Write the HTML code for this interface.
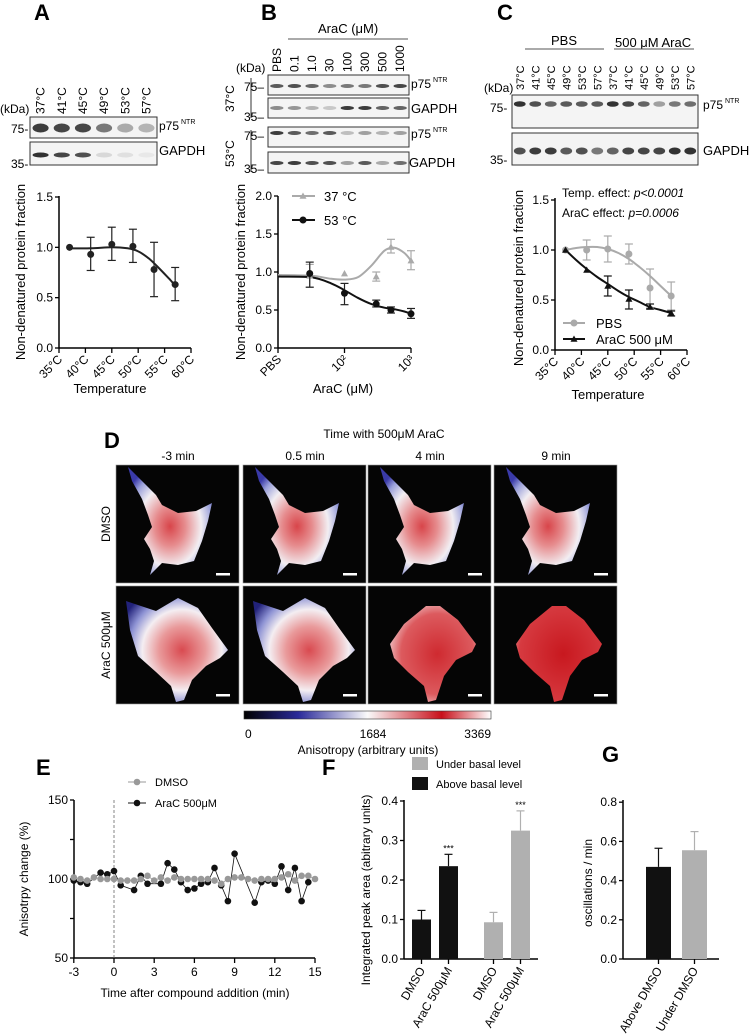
<!DOCTYPE html>
<html><head><meta charset="utf-8">
<style>
html,body{margin:0;padding:0;background:#fff;}
svg{display:block;font-family:"Liberation Sans",Arial,sans-serif;}
</style></head>
<body>
<svg id="fig" width="750" height="1035" viewBox="0 0 750 1035" xmlns="http://www.w3.org/2000/svg">
<defs>
<radialGradient id="cellG" cx="0.5" cy="0.55" r="0.6">
<stop offset="0" stop-color="#d8454a"/><stop offset="0.3" stop-color="#e68c8e"/><stop offset="0.62" stop-color="#f2eef2"/><stop offset="0.85" stop-color="#9aa0da"/><stop offset="1" stop-color="#3a3aa8"/></radialGradient>
<radialGradient id="cellG2" cx="0.55" cy="0.5" r="0.65">
<stop offset="0" stop-color="#d94a50"/><stop offset="0.35" stop-color="#e99a9b"/><stop offset="0.6" stop-color="#f4eef2"/><stop offset="0.8" stop-color="#8e93d4"/><stop offset="1" stop-color="#22227a"/></radialGradient>
<radialGradient id="cellG3" cx="0.55" cy="0.5" r="0.6">
<stop offset="0" stop-color="#cf2a30"/><stop offset="0.7" stop-color="#dc5a5e"/><stop offset="0.9" stop-color="#eaa7aa"/><stop offset="1" stop-color="#c8c8e8"/></radialGradient>
<radialGradient id="cellG4" cx="0.55" cy="0.5" r="0.6">
<stop offset="0" stop-color="#c8181f"/><stop offset="0.85" stop-color="#d63a40"/><stop offset="1" stop-color="#e37c80"/></radialGradient>
<linearGradient id="cbar" x1="0" x2="1" y1="0" y2="0">
<stop offset="0" stop-color="#000"/><stop offset="0.22" stop-color="#2a2a9a"/><stop offset="0.5" stop-color="#fafafa"/><stop offset="0.8" stop-color="#c8101a"/><stop offset="1" stop-color="#fff"/></linearGradient>
</defs>

<!-- Panel letters -->
<text x="34" y="20" font-size="22" font-weight="bold">A</text>
<text x="261" y="20" font-size="22" font-weight="bold">B</text>
<text x="497" y="20" font-size="22" font-weight="bold">C</text>
<text x="104" y="448" font-size="22" font-weight="bold">D</text>
<text x="36" y="775" font-size="22" font-weight="bold">E</text>
<text x="322" y="775" font-size="22" font-weight="bold">F</text>
<text x="602" y="762" font-size="22" font-weight="bold">G</text>

<g id="blots"></g>
<g id="chartA"></g>
<g id="chartB"></g>
<g id="chartC"></g>
<g id="panelD"></g>
<g id="chartE"></g>
<g id="chartF"></g>
<g id="chartG"></g>
</svg>

<script>
// ---------- DATA ----------
// Panel A
const aTemps=[37,41,45,49,53,57];
const aMeans=[1.0,0.93,1.03,1.01,0.78,0.63];
const aErrLo=[1.0,0.77,0.87,0.85,0.51,0.47];
const aErrHi=[1.0,1.10,1.20,1.18,1.05,0.80];
const aFitT=[37,41,45,48,50,52,54,56,57];
const aFitV=[0.99,0.99,1.0,0.99,0.96,0.89,0.79,0.68,0.62];
const aTicks=[35,40,45,50,55,60];
const aYTicks=[0,0.5,1.0,1.5];
// Panel B (AraC uM, PBS plotted at 10^1)
const bConc=[30,100,300,500,1000];
const b37Means=[0.95,0.98,0.94,1.33,1.15];
const b37Lo=[0.80,0.98,0.88,1.25,1.03];
const b37Hi=[1.10,0.98,1.00,1.43,1.28];
const b53Means=[0.98,0.72,0.58,0.50,0.45];
const b53Lo=[0.80,0.57,0.54,0.46,0.39];
const b53Hi=[1.13,0.85,0.63,0.54,0.52];
const bFitLog=[1,1.5,1.8,2,2.2,2.4,2.6,2.75,2.9,3];
const b37Fit=[0.96,0.95,0.91,0.90,0.93,1.08,1.28,1.32,1.25,1.15];
const b53Fit=[0.94,0.93,0.85,0.76,0.66,0.58,0.53,0.51,0.48,0.45];
const bTickLabels=["PBS","10²","10³"];
const bTickLogs=[1,2,3];
const bYTicks=[0,0.5,1.0,1.5,2.0];
// Panel C
const cTemps=[37,41,45,49,53,57];
const cPbs=[1.0,1.0,1.01,0.96,0.62,0.54];
const cPbsLo=[1.0,0.90,0.88,0.86,0.42,0.40];
const cPbsHi=[1.0,1.10,1.14,1.06,0.81,0.68];
const cAra=[1.0,0.80,0.64,0.51,0.43,0.37];
const cAraLo=[1.0,0.80,0.54,0.41,0.41,0.34];
const cAraHi=[1.0,0.80,0.74,0.60,0.46,0.39];
const cFitT=[37,39,41,43,45,47,49,51,53,55,57];
const cPbsFit=[1.0,1.02,1.03,1.03,1.01,0.97,0.91,0.83,0.74,0.64,0.54];
const cAraFit=[1.0,0.9,0.81,0.73,0.66,0.59,0.53,0.48,0.43,0.40,0.37];
const cTicks=[35,40,45,50,55,60];
const cYTicks=[0,0.5,1.0,1.5];
// Panel E
const eDmsoT=[-3,-2.5,-2,-1.5,-1,-0.5,0,0.5,1,1.5,2,2.5,3,3.5,4,4.5,5,5.5,6,6.5,7,7.5,8,8.5,9,9.5,10,10.5,11,11.5,12,12.5,13,13.5,14,14.5,15];
const eDmsoV=[101,100,99,101,100,100,100,99,99,99,100,102,99,101,99,101,100,100,100,100,100,99,97,100,101,101,100,99,100,100,100,101,103,99,102,102,100];
const eAraT=[-3,-2.5,-2,-1,-0.5,0,0.5,1.5,2,2.5,3.5,4,4.5,5,5.5,6,6.5,7,7.5,8,8.5,9,10.5,11,11.5,12,12.5,13,13.5,14,14.5];
const eAraV=[99,98,97,104,103,105,96,93,102,97,97,110,106,98,93,94,97,98,107,96,86,116,85,98,99,97,108,93,107,86,98];
const eXTicks=[-3,0,3,6,9,12,15];
const eYTicks=[50,75,100,125,150];
const eYLabels=["50","","100","","150"];
// Panel F
const fCats=["DMSO","AraC 500μM","DMSO","AraC 500μM"];
const fVals=[0.10,0.235,0.093,0.325];
const fErr=[0.123,0.265,0.118,0.375];
const fGroup=["above","above","under","under"];
const fSig=["","***","","***"];
const fYTicks=[0,0.1,0.2,0.3,0.4];
// Panel G
const gCats=["Above DMSO","Under DMSO"];
const gVals=[0.47,0.555];
const gErr=[0.565,0.65];
const gYTicks=[0,0.2,0.4,0.6,0.8];

// ---------- HELPERS ----------
const NS="http://www.w3.org/2000/svg";
function mk(tag,attrs,parent){const e=document.createElementNS(NS,tag);for(const k in attrs)e.setAttribute(k,attrs[k]);parent.appendChild(e);return e;}
function txt(parent,x,y,s,size,extra){const t=mk("text",Object.assign({x:x,y:y,"font-size":size||11},extra||{}),parent);t.textContent=s;return t;}
function path(pts){return pts.map((p,i)=>(i?"L":"M")+p[0].toFixed(1)+","+p[1].toFixed(1)).join("");}
function smooth(pts){let d="M"+pts[0][0]+","+pts[0][1];for(let i=0;i<pts.length-1;i++){const p0=pts[Math.max(0,i-1)],p1=pts[i],p2=pts[i+1],p3=pts[Math.min(pts.length-1,i+2)];const c1=[p1[0]+(p2[0]-p0[0])/6,p1[1]+(p2[1]-p0[1])/6],c2=[p2[0]-(p3[0]-p1[0])/6,p2[1]-(p3[1]-p1[1])/6];d+="C"+c1[0].toFixed(1)+","+c1[1].toFixed(1)+" "+c2[0].toFixed(1)+","+c2[1].toFixed(1)+" "+p2[0].toFixed(1)+","+p2[1].toFixed(1);}return d;}
function errbar(g,x,lo,hi,color){if(Math.abs(lo-hi)<0.5)return;mk("line",{x1:x,x2:x,y1:lo,y2:hi,stroke:color,"stroke-width":1.2},g);mk("line",{x1:x-4,x2:x+4,y1:lo,y2:lo,stroke:color,"stroke-width":1.2},g);mk("line",{x1:x-4,x2:x+4,y1:hi,y2:hi,stroke:color,"stroke-width":1.2},g);}
function tri(g,x,y,r,color){return mk("path",{d:`M${x},${y-r}L${x+r},${y+r*0.8}L${x-r},${y+r*0.8}Z`,fill:color},g);}
function yAxis(g,x,y0,y1,ticks,labels,ys){mk("line",{x1:x,x2:x,y1:y0,y2:y1,stroke:"#000","stroke-width":1.5},g);ticks.forEach((v,i)=>{const y=ys(v);mk("line",{x1:x-4,x2:x,y1:y,y2:y,stroke:"#000","stroke-width":1.3},g);const t=txt(g,x-6,y+4,labels[i],12,{"text-anchor":"end"});});}

// ---------- BLOTS ----------
const blots=document.getElementById("blots");
function blot(x,y,w,h,lanes,intens,bandY,thick){const b=mk("g",{},blots);mk("rect",{x:x,y:y,width:w,height:h,fill:"#f4f4f4",stroke:"#333","stroke-width":1},b);const step=w/lanes;intens.forEach((v,i)=>{if(v<=0)return;const c=Math.round(240-200*v);mk("ellipse",{cx:x+step*(i+0.5),cy:y+bandY,rx:step*0.38,ry:thick,fill:`rgb(${c},${c},${c})`},b);});}
// A
blot(30,117,127,21,6,[0.9,0.85,0.85,0.6,0.35,0.3],11,4.5);
blot(30,142,127,23,6,[0.95,0.85,0.8,0.12,0.08,0.04],13,2.5);
// B
blot(268,75,141,20,8,[0.75,0.8,0.7,0.5,0.6,0.6,0.8,0.85],11,2);
blot(268,98,141,20,8,[0.5,0.45,0.3,0.2,0.9,0.9,0.7,0.7],10,2);
blot(268,127,141,20,8,[0.9,0.75,0.65,0.75,0.25,0.4,0.3,0.4],6,2);
blot(268,152,141,21,8,[0.85,0.9,0.8,0.8,0.4,0.75,0.35,0.65],11,2);
// C
blot(512,95,186,33,12,[0.95,0.8,0.7,0.75,0.75,0.75,0.95,0.85,0.7,0.4,0.6,0.65],9,2.8);
blot(512,133,186,32,12,[0.8,0.9,0.9,0.75,0.8,0.6,0.7,0.85,0.85,0.85,0.95,0.95],18,3.5);
function rotLabel(x,y,s,size){const t=txt(blots,x,y,s,size||11,{transform:`rotate(-90 ${x} ${y})`});return t;}
const laneA=["37°C","41°C","45°C","49°C","53°C","57°C"];
laneA.forEach((s,i)=>rotLabel(30+127/6*(i+0.5)+4,114,s,12));
const laneB=["PBS","0.1","1.0","30","100","300","500","1000"];
laneB.forEach((s,i)=>rotLabel(268+141/8*(i+0.5)+4,72,s,12));
const laneC=["37°C","41°C","45°C","49°C","53°C","57°C","37°C","41°C","45°C","49°C","53°C","57°C"];
laneC.forEach((s,i)=>rotLabel(512+186/12*(i+0.5)+4,90,s,11));
function blotText(x,y,s,size,extra,name){const t=txt(blots,x,y,s,size,extra);return t;}
blotText(0,113,"(kDa)",12,{},"kda-label");
blotText(11,133,"75-",12,{},"marker-75");
blotText(11,168,"35-",12,{},"marker-35");
blotText(159,130,"p75",12,{},"p75-label");blotText(181,124,"NTR",7,{},"ntr-sup");
blotText(159,155,"GAPDH",13,{},"gapdh-label");
blotText(236,72,"(kDa)",12,{},"kda-label");
blotText(244,91,"75–",12,{},"marker-75");blotText(244,121,"35–",12,{},"marker-35");
blotText(244,140,"75–",12,{},"marker-75");blotText(244,173,"35–",12,{},"marker-35");
blotText(411,88,"p75",12,{},"p75-label");blotText(433,82,"NTR",7,{},"ntr-sup");
blotText(411,113,"GAPDH",13,{},"gapdh-label");
blotText(411,138,"p75",12,{},"p75-label");blotText(433,132,"NTR",7,{},"ntr-sup");
blotText(409,167,"GAPDH",13,{},"gapdh-label");
blotText(318,33,"AraC (μM)",13,{},"arac-header");
mk("line",{x1:288,x2:408,y1:39,y2:39,stroke:"#555","stroke-width":1},blots);
blotText(234,112,"37°C",12,{transform:"rotate(-90 234 112)"},"temp-37-label");
blotText(234,167,"53°C",12,{transform:"rotate(-90 234 167)"},"temp-53-label");
mk("line",{x1:251,x2:251,y1:78,y2:118,stroke:"#333","stroke-width":1},blots);
mk("line",{x1:251,x2:251,y1:130,y2:172,stroke:"#333","stroke-width":1},blots);
blotText(551,45,"PBS",13,{},"pbs-header");
mk("line",{x1:525,x2:604,y1:49,y2:49,stroke:"#555","stroke-width":1},blots);
blotText(615,47,"500 μM AraC",13,{},"arac-header");
mk("line",{x1:614,x2:694,y1:49,y2:49,stroke:"#555","stroke-width":1},blots);
blotText(484,92,"(kDa)",12,{},"kda-label");
blotText(490,112,"75-",12,{},"marker-75");blotText(490,164,"35-",12,{},"marker-35");
blotText(703,109,"p75",12,{},"p75-label");blotText(725,103,"NTR",7,{},"ntr-sup");
blotText(703,155,"GAPDH",13,{},"gapdh-label");

// ---------- CHART A ----------
(function(){
const g=document.getElementById("chartA");
const x=t=>59+(t-35)*(132/25), y=v=>348-v*(151/1.5);
yAxis(g,59,196,348,aYTicks,["0.0","0.5","1.0","1.5"],y);
mk("line",{x1:59,x2:191,y1:348,y2:348,stroke:"#000","stroke-width":1.5},g);
aTicks.forEach(t=>{mk("line",{x1:x(t),x2:x(t),y1:348,y2:353,stroke:"#000","stroke-width":1.3},g);const l=txt(g,x(t)+4,360,t+"°C",12,{"text-anchor":"end",transform:`rotate(-45 ${x(t)+4} 360)`});});
const fit=mk("path",{d:smooth(aFitT.map((t,i)=>[x(t),y(aFitV[i])])),fill:"none",stroke:"#222","stroke-width":2},g);

aTemps.forEach((t,i)=>{errbar(g,x(t),y(aErrLo[i]),y(aErrHi[i]),"#222");const c=mk("circle",{cx:x(t),cy:y(aMeans[i]),r:3.5,fill:"#222"},g);});
const yl=txt(g,25,272,"Non-denatured protein fraction",13,{"text-anchor":"middle",transform:"rotate(-90 25 272)"});
const xl=txt(g,110,393,"Temperature",13,{"text-anchor":"middle"});
})();

// ---------- CHART B ----------
(function(){
const g=document.getElementById("chartB");
const x=l=>278+(l-1)*66.5, y=v=>348-v*76;
yAxis(g,278,196,348,bYTicks,["0.0","0.5","1.0","1.5","2.0"],y);
mk("line",{x1:278,x2:411,y1:348,y2:348,stroke:"#000","stroke-width":1.5},g);
bTickLogs.forEach((l,i)=>{mk("line",{x1:x(l),x2:x(l),y1:348,y2:353,stroke:"#000","stroke-width":1.3},g);const t=txt(g,x(l)+4,360,bTickLabels[i],12,{"text-anchor":"end",transform:`rotate(-45 ${x(l)+4} 360)`});});
const f37=mk("path",{d:smooth(bFitLog.map((l,i)=>[x(l),y(b37Fit[i])])),fill:"none",stroke:"#aaa","stroke-width":2},g);

const f53=mk("path",{d:smooth(bFitLog.map((l,i)=>[x(l),y(b53Fit[i])])),fill:"none",stroke:"#111","stroke-width":2},g);

bConc.forEach((c,i)=>{const lx=x(Math.log10(c));
errbar(g,lx,y(b37Lo[i]),y(b37Hi[i]),"#aaa");const t=tri(g,lx,y(b37Means[i]),3.5,"#aaa");
errbar(g,lx,y(b53Lo[i]),y(b53Hi[i]),"#222");const p=mk("circle",{cx:lx,cy:y(b53Means[i]),r:3.5,fill:"#111"},g);});
mk("line",{x1:292,x2:315,y1:196,y2:196,stroke:"#aaa","stroke-width":2},g);tri(g,303,196,3.5,"#aaa");
const l1=txt(g,324,201,"37 °C",13);
mk("line",{x1:292,x2:315,y1:220,y2:220,stroke:"#111","stroke-width":2},g);mk("circle",{cx:303,cy:220,r:3.5,fill:"#111"},g);
const l2=txt(g,324,225,"53 °C",13);
const yl=txt(g,245,272,"Non-denatured protein fraction",13,{"text-anchor":"middle",transform:"rotate(-90 245 272)"});
const xl=txt(g,343,393,"AraC (μM)",13,{"text-anchor":"middle"});
})();

// ---------- CHART C ----------
(function(){
const g=document.getElementById("chartC");
const x=t=>555+(t-35)*(132/25), y=v=>350-v*100;
yAxis(g,555,198,350,cYTicks,["0.0","0.5","1.0","1.5"],y);
mk("line",{x1:555,x2:687,y1:350,y2:350,stroke:"#000","stroke-width":1.5},g);
cTicks.forEach(t=>{mk("line",{x1:x(t),x2:x(t),y1:350,y2:355,stroke:"#000","stroke-width":1.3},g);const l=txt(g,x(t)+4,362,t+"°C",12,{"text-anchor":"end",transform:`rotate(-45 ${x(t)+4} 362)`});});
const fp=mk("path",{d:smooth(cFitT.map((t,i)=>[x(t),y(cPbsFit[i])])),fill:"none",stroke:"#aaa","stroke-width":2},g);

const fa=mk("path",{d:smooth(cFitT.map((t,i)=>[x(t),y(cAraFit[i])])),fill:"none",stroke:"#111","stroke-width":2},g);

cTemps.forEach((t,i)=>{errbar(g,x(t),y(cPbsLo[i]),y(cPbsHi[i]),"#aaa");const c=mk("circle",{cx:x(t),cy:y(cPbs[i]),r:3.5,fill:"#aaa"},g);
errbar(g,x(t),y(cAraLo[i]),y(cAraHi[i]),"#111");const p=tri(g,x(t),y(cAra[i]),3.5,"#111");});
const s1=txt(g,562,197,"Temp. effect: ",12);
const s1b=mk("tspan",{"font-style":"italic"},s1);s1b.textContent="p<0.0001";
const s2=txt(g,562,217,"AraC effect: ",12);
const s2b=mk("tspan",{"font-style":"italic"},s2);s2b.textContent="p=0.0006";
mk("line",{x1:563,x2:585,y1:323,y2:323,stroke:"#aaa","stroke-width":2},g);mk("circle",{cx:574,cy:323,r:3.5,fill:"#aaa"},g);
const l1=txt(g,596,328,"PBS",13);
mk("line",{x1:563,x2:585,y1:339,y2:339,stroke:"#111","stroke-width":2},g);tri(g,574,339,3.5,"#111");
const l2=txt(g,596,344,"AraC 500 μM",13);
const yl=txt(g,523,278,"Non-denatured protein fraction",13,{"text-anchor":"middle",transform:"rotate(-90 523 278)"});
const xl=txt(g,608,399,"Temperature",13,{"text-anchor":"middle"});
})();

// ---------- PANEL D ----------
(function(){
const g=document.getElementById("panelD");
const t0=txt(g,384,438,"Time with 500μM AraC",12,{"text-anchor":"middle"});
const colX=[116,243,368,494];const times=["-3 min","0.5 min","4 min","9 min"];
const dmso="M12,2L20,10L30,20L40,30L46,40L62,48L80,46L96,38L92,56L86,76L78,96L62,100L46,98L34,110L38,96L34,84L28,74L36,62L32,50L26,34L16,16Z";
const arac="M10,15L40,25L62,12L82,22L96,42L112,64L104,72L90,80L76,94L68,114L60,116L55,100L40,86L22,70L14,44Z";
const fills=["url(#cellG)","url(#cellG)","url(#cellG)","url(#cellG)"];
const fills2=["url(#cellG2)","url(#cellG2)","url(#cellG3)","url(#cellG4)"];
colX.forEach((cx,i)=>{
const lab=txt(g,cx+62,460,times[i],12,{"text-anchor":"middle"});
[[465,dmso,fills[i]],[586,arac,fills2[i]]].forEach((r,j)=>{
const p=mk("g",{transform:`translate(${cx},${r[0]})`},g);
mk("rect",{x:0,y:0,width:123,height:118,fill:"#050505",stroke:"#999","stroke-width":0.6},p);
let d=r[1];if(j===1&&i>=2){d="M22,58L36,38L58,20L72,20L90,34L108,58L104,66L88,74L76,90L68,114L60,116L56,100L40,86L26,72Z";}
mk("path",{d:d,fill:r[2]},p);
mk("rect",{x:100,y:108,width:14,height:2.5,fill:"#fff"},p);});
});
const r1=txt(g,110,524,"DMSO",12,{"text-anchor":"middle",transform:"rotate(-90 110 524)"});
const r2=txt(g,110,645,"AraC 500μM",12,{"text-anchor":"middle",transform:"rotate(-90 110 645)"});
const cb=mk("rect",{x:244,y:711,width:247,height:8,fill:"url(#cbar)",stroke:"#333","stroke-width":0.6},g);
[["0",245,"start"],["1684",373,"middle"],["3369",491,"end"]].forEach(a=>{const t=txt(g,a[1],738,a[0],12,{"text-anchor":a[2]});});
const ct=txt(g,368,754,"Anisotropy (arbitrary units)",12,{"text-anchor":"middle"});
})();

// ---------- CHART E ----------
(function(){
const g=document.getElementById("chartE");
const x=t=>114+t*13.4, y=v=>879-(v-100)*1.58;
yAxis(g,74,800,958,eYTicks,eYLabels,y);
mk("line",{x1:74,x2:315,y1:958,y2:958,stroke:"#000","stroke-width":1.5},g);
eXTicks.forEach(t=>{mk("line",{x1:x(t),x2:x(t),y1:958,y2:963,stroke:"#000","stroke-width":1.3},g);const l=txt(g,x(t),976,String(t),12,{"text-anchor":"middle"});});
mk("line",{x1:x(0),x2:x(0),y1:800,y2:958,stroke:"#666","stroke-width":0.8,"stroke-dasharray":"3,2"},g);
const la=mk("path",{d:path(eAraT.map((t,i)=>[x(t),y(eAraV[i])])),fill:"none",stroke:"#111","stroke-width":0.8},g);
const ld=mk("path",{d:path(eDmsoT.map((t,i)=>[x(t),y(eDmsoV[i])])),fill:"none",stroke:"#999","stroke-width":0.8},g);
eAraT.forEach((t,i)=>{const c=mk("circle",{cx:x(t),cy:y(eAraV[i]),r:3.3,fill:"#111"},g);});
eDmsoT.forEach((t,i)=>{const c=mk("circle",{cx:x(t),cy:y(eDmsoV[i]),r:3.3,fill:"#999"},g);});
mk("line",{x1:128,x2:146,y1:782,y2:782,stroke:"#999","stroke-width":1},g);mk("circle",{cx:137,cy:782,r:3.3,fill:"#999"},g);
const l1=txt(g,155,786,"DMSO",11);
mk("line",{x1:128,x2:146,y1:803,y2:803,stroke:"#111","stroke-width":1},g);mk("circle",{cx:137,cy:803,r:3.3,fill:"#111"},g);
const l2=txt(g,155,807,"AraC 500μM",11);
const yl=txt(g,28,879,"Anisotrpy change (%)",12,{"text-anchor":"middle",transform:"rotate(-90 28 879)"});
const xl=txt(g,195,997,"Time after compound addition (min)",12,{"text-anchor":"middle"});
})();

// ---------- CHART F ----------
(function(){
const g=document.getElementById("chartF");
const y=v=>959-v*395;const barX=[412,439,484,511];const bw=19;
yAxis(g,404,800,959,fYTicks,["0.0","0.1","0.2","0.3","0.4"],y);
mk("line",{x1:404,x2:538,y1:959,y2:959,stroke:"#000","stroke-width":1.5},g);
fVals.forEach((v,i)=>{const col=fGroup[i]==="above"?"#111":"#b0b0b0";const cx=barX[i]+bw/2;
mk("line",{x1:cx,x2:cx,y1:y(v),y2:y(fErr[i]),stroke:col,"stroke-width":1.2},g);mk("line",{x1:cx-4,x2:cx+4,y1:y(fErr[i]),y2:y(fErr[i]),stroke:col,"stroke-width":1.2},g);
const b=mk("rect",{x:barX[i],y:y(v),width:bw,height:959-y(v),fill:col},g);
if(fSig[i]){const s=txt(g,cx,y(fErr[i])-3,fSig[i],9,{"text-anchor":"middle"});}
mk("line",{x1:cx,x2:cx,y1:959,y2:964,stroke:"#000","stroke-width":1.3},g);
const l=txt(g,cx+4,970,fCats[i],12,{"text-anchor":"end",transform:`rotate(-60 ${cx+4} 970)`});});
mk("rect",{x:412,y:757,width:16,height:13,fill:"#b0b0b0"},g);
const l1=txt(g,436,768,"Under basal level",11);
mk("rect",{x:412,y:777,width:16,height:13,fill:"#111"},g);
const l2=txt(g,436,788,"Above basal level",11);
const yl=txt(g,370,890,"Integrated peak area (abitrary units)",12,{"text-anchor":"middle",transform:"rotate(-90 370 890)"});
})();

// ---------- CHART G ----------
(function(){
const g=document.getElementById("chartG");
const y=v=>959-v*196;const barX=[646,682];const bw=25;const cols=["#111","#b0b0b0"];
yAxis(g,623,800,959,gYTicks,["0.0","0.2","0.4","0.6","0.8"],y);
mk("line",{x1:623,x2:719,y1:959,y2:959,stroke:"#000","stroke-width":1.5},g);
gVals.forEach((v,i)=>{const cx=barX[i]+bw/2;
mk("line",{x1:cx,x2:cx,y1:y(v),y2:y(gErr[i]),stroke:cols[i],"stroke-width":1.2},g);mk("line",{x1:cx-4,x2:cx+4,y1:y(gErr[i]),y2:y(gErr[i]),stroke:cols[i],"stroke-width":1.2},g);
const b=mk("rect",{x:barX[i],y:y(v),width:bw,height:959-y(v),fill:cols[i]},g);
mk("line",{x1:cx,x2:cx,y1:959,y2:964,stroke:"#000","stroke-width":1.3},g);
const l=txt(g,cx+4,970,gCats[i],12,{"text-anchor":"end",transform:`rotate(-60 ${cx+4} 970)`});});
const yl=txt(g,592,883,"oscillations / min",12,{"text-anchor":"middle",transform:"rotate(-90 592 883)"});
})();
</script>
</body></html>
